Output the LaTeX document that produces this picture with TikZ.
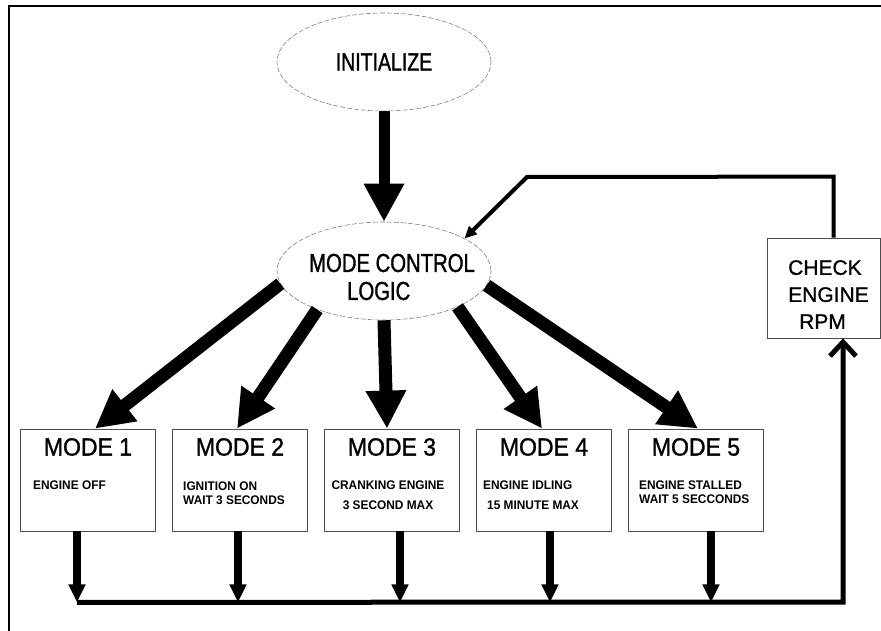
\documentclass[tikz,border=0pt]{standalone}
\usepackage{fontspec}
\setmainfont[FakeBold=1]{Liberation Sans}
\newfontfamily\condfont[FakeStretch=0.78, FakeBold=1.2]{Liberation Sans}
\newfontfamily\modefont[FakeStretch=0.92, FakeBold=1.2]{Liberation Sans}
\newfontfamily\descfont[FakeStretch=0.95]{Liberation Sans}
\usetikzlibrary{positioning, shapes.geometric, arrows.meta, calc}

\tikzset{
  oval/.style={ellipse, draw=gray, dash pattern=on 5pt off 2pt, line width=0.6pt,
    minimum width=214pt, minimum height=98pt, inner sep=0pt},
  modebox/.style={rectangle, draw=black!70, line width=0.8pt,
    minimum width=135pt, minimum height=102pt},
  bigarrow/.style={line width=13pt, -{Triangle[length=38pt, width=38pt]}},
  downarrow/.style={line width=8pt, -{Triangle[length=18pt, width=16pt]}},
  bus/.style={line width=5pt},
  desc/.style={font=\descfont\bfseries\fontsize{12.5}{#1}\selectfont, align=left, inner sep=0pt},
  desc/.default=14pt
}

\begin{document}
\begin{tikzpicture}[x=1pt, y=-1pt, >=Stealth]
  \useasboundingbox (0,0) rectangle (881,631);

  % frame
  \draw[line width=2.5pt] (9,631) -- (9,6) -- (881,6);

  % ovals
  \node[oval, font=\condfont\fontsize{25}{30}\selectfont] (init) at (384,62) {INITIALIZE};
  \node[oval] (ctrl) at (384,271) {};
  \node[font=\condfont\fontsize{26}{28}\selectfont, align=left, inner sep=0pt] (ctrltxt)
    at (392,277) {MODE CONTROL\\\hspace*{38pt}LOGIC};

  \draw[bigarrow, line width=11pt] (init.south) -- (ctrl.north);

  % mode boxes and their outlets to the bus
  \foreach \i/\x/\dx in {1/88/-11, 2/240/-2, 3/392/8, 4/544/6, 5/696/15} {
    \node[modebox] (m\i) at (\x,480) {};
    \node[font=\modefont\fontsize{25}{30}\selectfont, anchor=base] (t\i)
      at ($(m\i.north)+(0,27)$) {MODE \i};
    \coordinate (b\i) at ($(m\i.south)+(\dx,71)$);
    \draw[downarrow] (m\i.south -| b\i) -- (b\i);
  }

  % arrows out of the mode control
  \foreach \i/\a/\dx in {1/187/7, 2/210/-3, 3/270/-5, 4/334/-2, 5/352/2}
    \draw[bigarrow] (ctrl.\a) -- ($(m\i.north)+(\dx,0)$);

  % mode descriptions
  \node[desc, anchor=north west] (d1) at (33,481) {ENGINE OFF};
  \node[desc, anchor=north west] (d2) at (183,482) {IGNITION ON\\WAIT 3 SECONDS};
  \node[desc=20pt, anchor=north, align=center] (d3) at (388,481) {CRANKING ENGINE\\3 SECOND MAX};
  \node[desc=20pt, anchor=north west] (d4) at (483,481) {ENGINE IDLING\\\hspace*{4pt}15 MINUTE MAX};
  \node[desc, anchor=north west] (d5) at (639,481) {ENGINE STALLED\\WAIT 5 SECCONDS};

  % rpm check
  \node[modebox, minimum width=113pt, minimum height=100pt] (chk) at (823.5,288) {};
  \node[font=\fontsize{21}{27}\selectfont, align=left, inner sep=0pt, anchor=north west] (chktxt)
    at (788,260) {CHECK\\ENGINE\\\hspace*{11pt}RPM};

  % bus back up to the rpm check
  \coordinate (busend) at (843,602);
  \draw[bus, -{Straight Barb[length=14pt, width=26pt]}] (b1) -- (busend) -- (chk.south -| busend);

  % feedback into the mode control
  \coordinate (fbtop) at ($(chk.north)+(10,-61)$);
  \coordinate (fbbend) at (527,177);
  \draw[line width=4pt, -{Triangle[length=12pt, width=11pt]}]
    ($(chk.north)+(10,0)$) -- (fbtop) -- (fbbend) -- (ctrl.22);
\end{tikzpicture}
\end{document}
